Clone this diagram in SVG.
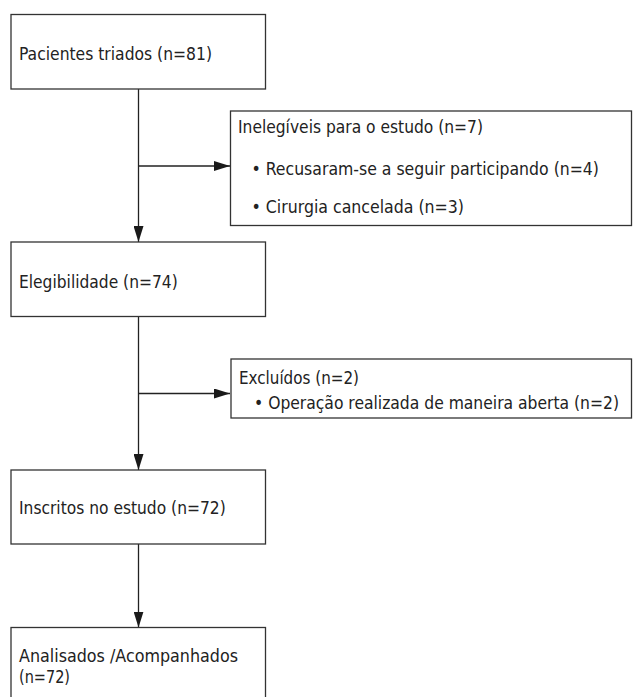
<svg xmlns="http://www.w3.org/2000/svg" width="633" height="697" viewBox="0 0 633 697">
<defs>
<marker id="ah" viewBox="0 0 16 10" refX="16" refY="5" markerWidth="16" markerHeight="10" markerUnits="userSpaceOnUse" orient="auto">
<path d="M0,0 L16,5 L0,10 Z" fill="#1a1a1a"/>
</marker>
<style>
.box{fill:#fff;stroke:#333;stroke-width:1.3}
.t{font-family:"DejaVu Sans Condensed","DejaVu Sans",sans-serif;font-stretch:condensed;font-size:17.8px;fill:#222}
.c{stroke:#222;stroke-width:1.3;fill:none}
</style>
</defs>
<rect width="633" height="697" fill="#fff"/>
<g id="connectors">
<line class="c" x1="138.5" y1="89" x2="138.5" y2="242" marker-end="url(#ah)"/>
<line class="c" x1="138.5" y1="166" x2="230" y2="166" marker-end="url(#ah)"/>
<line class="c" x1="138.5" y1="317" x2="138.5" y2="470" marker-end="url(#ah)"/>
<line class="c" x1="138.5" y1="393.5" x2="230" y2="393.5" marker-end="url(#ah)"/>
<line class="c" x1="138.5" y1="544" x2="138.5" y2="627.5" marker-end="url(#ah)"/>
</g>
<g id="n1">
<rect class="box" x="11" y="14.5" width="254.5" height="74.5"/>
<text class="t" x="19" y="60" textLength="193" lengthAdjust="spacingAndGlyphs">Pacientes triados (n=81)</text>
</g>
<g id="n2">
<rect class="box" x="230.5" y="111" width="401" height="114.5"/>
<text class="t" x="238" y="133" textLength="245" lengthAdjust="spacingAndGlyphs">Inelegíveis para o estudo (n=7)</text>
<text class="t" x="251.5" y="174.5" textLength="347.5" lengthAdjust="spacingAndGlyphs">• Recusaram-se a seguir participando (n=4)</text>
<text class="t" x="251.5" y="213" textLength="212.5" lengthAdjust="spacingAndGlyphs">• Cirurgia cancelada (n=3)</text>
</g>
<g id="n3">
<rect class="box" x="11" y="242" width="254.5" height="74.5"/>
<text class="t" x="19" y="288" textLength="158.7" lengthAdjust="spacingAndGlyphs">Elegibilidade (n=74)</text>
</g>
<g id="n4">
<rect class="box" x="231" y="359" width="400.5" height="59"/>
<text class="t" x="239" y="384" textLength="120" lengthAdjust="spacingAndGlyphs">Excluídos (n=2)</text>
<text class="t" x="254" y="409" textLength="365" lengthAdjust="spacingAndGlyphs">• Operação realizada de maneira aberta (n=2)</text>
</g>
<g id="n5">
<rect class="box" x="11" y="470" width="254.5" height="74"/>
<text class="t" x="19" y="513.5" textLength="206.7" lengthAdjust="spacingAndGlyphs">Inscritos no estudo (n=72)</text>
</g>
<g id="n6">
<rect class="box" x="11" y="627.5" width="254.5" height="80"/>
<text class="t" x="19" y="661.5" textLength="219" lengthAdjust="spacingAndGlyphs">Analisados /Acompanhados</text>
<text class="t" x="19" y="683" textLength="51" lengthAdjust="spacingAndGlyphs">(n=72)</text>
</g>
</svg>
